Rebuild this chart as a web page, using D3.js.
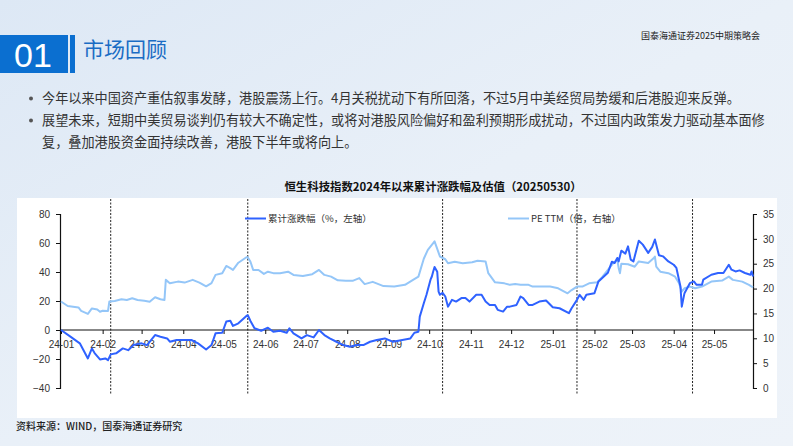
<!DOCTYPE html>
<html><head><meta charset="utf-8">
<script src="https://cdn.jsdelivr.net/npm/d3@7/dist/d3.min.js"></script>
<style>html,body{margin:0;padding:0;overflow:hidden;}svg{display:block;}</style>
</head><body><svg id="c" width="793" height="446"></svg>
<script>
// ---------- DATA ----------
const cumDates = ["2024-01-01","2024-01-08","2024-01-15","2024-01-21","2024-01-24","2024-01-26","2024-01-30","2024-02-03","2024-02-05","2024-02-07","2024-02-11","2024-02-16","2024-02-20","2024-02-24","2024-03-01","2024-03-05","2024-03-11","2024-03-15","2024-03-20","2024-03-22","2024-03-27","2024-04-01","2024-04-07","2024-04-12","2024-04-18","2024-04-22","2024-04-25","2024-04-30","2024-05-03","2024-05-06","2024-05-08","2024-05-12","2024-05-18","2024-05-19","2024-05-21","2024-05-24","2024-05-29","2024-06-03","2024-06-07","2024-06-12","2024-06-17","2024-06-19","2024-06-22","2024-06-28","2024-07-02","2024-07-07","2024-07-11","2024-07-15","2024-07-19","2024-07-24","2024-07-29","2024-08-03","2024-08-08","2024-08-13","2024-08-18","2024-08-23","2024-08-29","2024-09-04","2024-09-11","2024-09-17","2024-09-20","2024-09-23","2024-09-24","2024-09-27","2024-09-29","2024-10-02","2024-10-03","2024-10-04","2024-10-05","2024-10-07","2024-10-08","2024-10-09","2024-10-11","2024-10-13","2024-10-15","2024-10-18","2024-10-21","2024-10-25","2024-10-28","2024-10-31","2024-11-05","2024-11-09","2024-11-12","2024-11-15","2024-11-19","2024-11-21","2024-11-25","2024-11-28","2024-11-30","2024-12-05","2024-12-08","2024-12-10","2024-12-14","2024-12-17","2024-12-22","2024-12-27","2025-01-01","2025-01-06","2025-01-13","2025-01-15","2025-01-19","2025-01-21","2025-01-24","2025-01-26","2025-02-01","2025-02-04","2025-02-08","2025-02-11","2025-02-14","2025-02-16","2025-02-18","2025-02-19","2025-02-21","2025-02-24","2025-02-26","2025-02-28","2025-03-02","2025-03-06","2025-03-09","2025-03-13","2025-03-16","2025-03-18","2025-03-21","2025-03-24","2025-03-28","2025-04-01","2025-04-03","2025-04-06","2025-04-07","2025-04-09","2025-04-13","2025-04-16","2025-04-18","2025-04-22","2025-04-23","2025-04-29","2025-05-04","2025-05-08","2025-05-12","2025-05-14","2025-05-17","2025-05-20","2025-05-24","2025-05-28","2025-05-29","2025-05-30"];
const cumValues = [0,-4.6,-9.2,-19.6,-12.7,-15.9,-20.3,-19.6,-20.8,-16.8,-16.1,-12.7,-13.9,-10.4,-9.2,-10.4,-3.5,-4.6,-5.8,-8.1,-6.9,-6.9,-6.9,-9.2,-13.4,-10.4,-2.3,-1.9,5.8,6.4,2.8,4.6,9.7,10.2,6.2,1.2,-0.5,1.6,-1.2,-0.5,-1.9,1.2,-2.3,-5.8,-3.5,-5.1,0,-3.5,-5.8,-8.1,-10.4,-11.6,-10.4,-10.4,-8.1,-6.9,-5.8,-8.1,-6.9,-5.8,-1.9,-1.2,9.2,18.5,24.3,34.7,36.9,40.4,43.5,40.2,26.5,24.3,25.6,23.1,16.1,20.8,19.6,22.0,22.0,19.6,24.3,24.3,19.6,17.3,17.3,13.9,12.7,16.1,16.1,17.3,23.1,22.0,17.3,17.3,19.6,20.3,15.7,15.0,11.6,15.0,20.8,24.3,20.8,24.3,25.4,33.5,36.9,39.5,47.1,46.2,49.7,47.3,54.7,52.7,57.7,48.5,47.3,61.6,58.9,53.2,57.3,62.4,51.6,50.8,47.3,45.0,42.8,30.0,16.1,25.4,32.3,33.5,31.2,31.2,34.7,38.1,39.3,39.3,45.0,41.6,40.4,41.1,39.3,38.1,40.4,36.9];

const peDates = ["2024-01-01","2024-01-06","2024-01-10","2024-01-14","2024-01-16","2024-01-21","2024-01-24","2024-01-28","2024-01-30","2024-02-01","2024-02-05","2024-02-06","2024-02-10","2024-02-15","2024-02-19","2024-02-23","2024-02-27","2024-03-03","2024-03-07","2024-03-11","2024-03-15","2024-03-18","2024-03-19","2024-03-22","2024-03-28","2024-04-02","2024-04-08","2024-04-13","2024-04-18","2024-04-22","2024-04-25","2024-04-30","2024-05-03","2024-05-06","2024-05-08","2024-05-12","2024-05-18","2024-05-19","2024-05-21","2024-05-23","2024-05-27","2024-05-31","2024-06-03","2024-06-07","2024-06-12","2024-06-18","2024-06-22","2024-06-29","2024-07-06","2024-07-11","2024-07-15","2024-07-20","2024-07-25","2024-07-31","2024-08-05","2024-08-10","2024-08-14","2024-08-20","2024-08-28","2024-09-05","2024-09-13","2024-09-19","2024-09-23","2024-09-27","2024-09-30","2024-10-04","2024-10-05","2024-10-07","2024-10-09","2024-10-13","2024-10-15","2024-10-20","2024-10-26","2024-11-02","2024-11-06","2024-11-12","2024-11-14","2024-11-19","2024-11-26","2024-11-30","2024-12-04","2024-12-08","2024-12-14","2024-12-17","2024-12-24","2024-12-30","2025-01-05","2025-01-12","2025-01-15","2025-01-19","2025-01-23","2025-01-28","2025-02-03","2025-02-07","2025-02-11","2025-02-15","2025-02-18","2025-02-19","2025-02-20","2025-02-21","2025-02-26","2025-03-03","2025-03-06","2025-03-13","2025-03-17","2025-03-18","2025-03-19","2025-03-22","2025-03-28","2025-04-02","2025-04-05","2025-04-07","2025-04-09","2025-04-13","2025-04-17","2025-04-22","2025-04-29","2025-05-07","2025-05-12","2025-05-15","2025-05-22","2025-05-27","2025-05-30"];
const peValues = [17.4,16.5,16.35,16.2,15.5,14.9,16.0,15.8,15.35,15.55,15.5,17.4,17.5,17.85,17.7,18.05,17.7,17.55,17.35,18.25,17.85,17.7,21.75,21.05,21.4,21.2,21.75,21.2,20.45,21.1,22.75,23.1,24.55,24.1,23.75,25.2,26.3,26.3,25.4,23.75,23.75,22.95,23.4,23.1,23.1,23.4,22.75,22.55,22.9,23.75,22.75,22.4,21.65,21.55,21.55,22.1,20.9,21.35,20.5,20.4,20.75,21.75,22.4,26.0,27.8,29.15,29.5,28.0,26.45,25.9,25.1,25.4,25.1,25.3,25.6,25.45,23.1,21.25,21.05,20.75,20.9,20.75,20.75,20.4,20.4,20.4,20.05,19.05,19.7,20.4,20.4,21.05,21.25,22.4,23.75,25.1,25.8,24.15,23.1,25.0,24.9,24.4,25.45,25.15,26.1,26.45,24.4,23.4,23.1,22.4,21.05,19.4,20.05,20.4,20.05,20.4,21.4,21.6,22.4,21.75,21.4,20.75,20.25];

const markerDates = ["2024-02-07","2024-05-19","2024-10-11","2025-01-19","2025-04-15"];
const leftTicks = [-40,-20,0,20,40,60,80];
const rightTicks = [0,5,10,15,20,25,30,35];
const seriesNames = ["累计涨跌幅（%，左轴）","PE TTM（倍，右轴）"];
const chartTitle = "恒生科技指数2024年以来累计涨跌幅及估值（20250530）";
const bullets = [
  ["今年以来中国资产重估叙事发酵，港股震荡上行。4月关税扰动下有所回落，不过5月中美经贸局势缓和后港股迎来反弹。"],
  ["展望未来，短期中美贸易谈判仍有较大不确定性，或将对港股风险偏好和盈利预期形成扰动，不过国内政策发力驱动基本面修",
   "复，叠加港股资金面持续改善，港股下半年或将向上。"]
];

// ---------- DRAW ----------
const svg = d3.select("#c");
const CJK = "'Noto Sans CJK SC','Noto Sans',sans-serif";
const NUM = "'Liberation Sans','Noto Sans CJK SC',sans-serif";
const parse = d3.timeParse("%Y-%m-%d");

const defs = svg.append("defs");
const g1 = defs.append("linearGradient").attr("id","bg").attr("x1","0").attr("y1","0").attr("x2","1").attr("y2","1");
g1.append("stop").attr("offset","0").attr("stop-color","#dde8f5");
g1.append("stop").attr("offset","0.5").attr("stop-color","#e9f0f8");
g1.append("stop").attr("offset","1").attr("stop-color","#eef3f9");
svg.append("rect").attr("width",793).attr("height",446).attr("fill","url(#bg)");

// header
svg.append("rect").attr("x",0).attr("y",35).attr("width",68).attr("height",38).attr("fill","#0b6fd0");
svg.append("rect").attr("x",70).attr("y",35).attr("width",5).attr("height",38).attr("fill","#0b6fd0");
svg.append("text").attr("x",33).attr("y",67).attr("text-anchor","middle").attr("fill","#fff")
  .style("font-family",NUM).style("font-size","34px").text("01");
svg.append("text").attr("x",83).attr("y",57).attr("fill","#1a6cc4")
  .style("font-family",CJK).style("font-size","21px").text("市场回顾");
svg.append("text").attr("x",760).attr("y",39).attr("text-anchor","end").attr("fill","#222")
  .style("font-family",CJK).style("font-size","9px").text("国泰海通证券2025中期策略会");

// bullets
let ly = 103;
bullets.forEach(b => {
  svg.append("circle").attr("cx",31).attr("cy",ly-4.5).attr("r",2).attr("fill","#555");
  b.forEach(line => {
    svg.append("text").attr("x",42).attr("y",ly).attr("fill","#333")
      .style("font-family",CJK).style("font-size","13.15px").text(line);
    ly += 22;
  });
});

// chart title
svg.append("text").attr("x",433).attr("y",191).attr("text-anchor","middle").attr("fill","#111")
  .style("font-family",CJK).style("font-size","11.4px").style("font-weight","bold").text(chartTitle);

// chart panel
svg.append("rect").attr("x",17).attr("y",198).attr("width",760).attr("height",220).attr("fill","#fff");

const x = d3.scaleTime().domain([parse("2024-01-01"), parse("2025-05-30")]).range([61,753]);
const yL = d3.scaleLinear().domain([-40,80]).range([388,214]);
const yR = d3.scaleLinear().domain([0,35]).range([388,214]);

// dashed markers
svg.append("g").selectAll("line").data(markerDates).join("line")
  .attr("x1",d=>x(parse(d))).attr("x2",d=>x(parse(d)))
  .attr("y1",199).attr("y2",394)
  .attr("stroke","#222").attr("stroke-width",1).attr("stroke-dasharray","2,1.5");

// axes
const axL = svg.append("g").attr("transform","translate(60,0)")
  .call(d3.axisLeft(yL).tickValues(leftTicks).tickSize(4).tickPadding(6));
const axR = svg.append("g").attr("transform","translate(753,0)")
  .call(d3.axisRight(yR).tickValues(rightTicks).tickSize(4).tickPadding(6));
const axX = svg.append("g").attr("transform",`translate(0,${yL(0)})`)
  .call(d3.axisBottom(x).ticks(d3.timeMonth.every(1)).tickFormat(d3.timeFormat("%y-%m")).tickSize(4).tickPadding(7).tickSizeOuter(0));
[axL,axR,axX].forEach(a=>{
  a.selectAll("path").attr("stroke","#111").attr("stroke-width",1.2);
  a.selectAll("line").attr("stroke","#111");
  a.selectAll("text").attr("fill","#333").style("font-family",NUM).style("font-size","10px");
});
axX.select("path").attr("d","M60,0H753");

// lines
const cum = cumDates.map((d,i)=>({d:parse(d),v:cumValues[i]}));
const pe = peDates.map((d,i)=>({d:parse(d),v:peValues[i]}));
svg.append("path").datum(pe).attr("fill","none").attr("stroke","#94c6f8").attr("stroke-width",2)
  .attr("stroke-linejoin","round")
  .attr("d",d3.line().x(p=>x(p.d)).y(p=>yR(p.v)));
svg.append("path").datum(cum).attr("fill","none").attr("stroke","#2f62ff").attr("stroke-width",2)
  .attr("stroke-linejoin","round")
  .attr("d",d3.line().x(p=>x(p.d)).y(p=>yL(p.v)));

// legend
const leg = [{x:245,c:"#2f62ff"},{x:508,c:"#94c6f8"}];
leg.forEach((l,i)=>{
  svg.append("line").attr("x1",l.x).attr("x2",l.x+21).attr("y1",218.5).attr("y2",218.5)
    .attr("stroke",l.c).attr("stroke-width",2);
  svg.append("text").attr("x",l.x+23).attr("y",222).attr("fill","#333")
    .style("font-family",CJK).style("font-size","9.5px").text(seriesNames[i]);
});

// footer
svg.append("text").attr("x",16).attr("y",430).attr("fill","#222")
  .style("font-family",CJK).style("font-size","10px").style("font-weight","500").text("资料来源：WIND，国泰海通证券研究");
</script></body></html>
